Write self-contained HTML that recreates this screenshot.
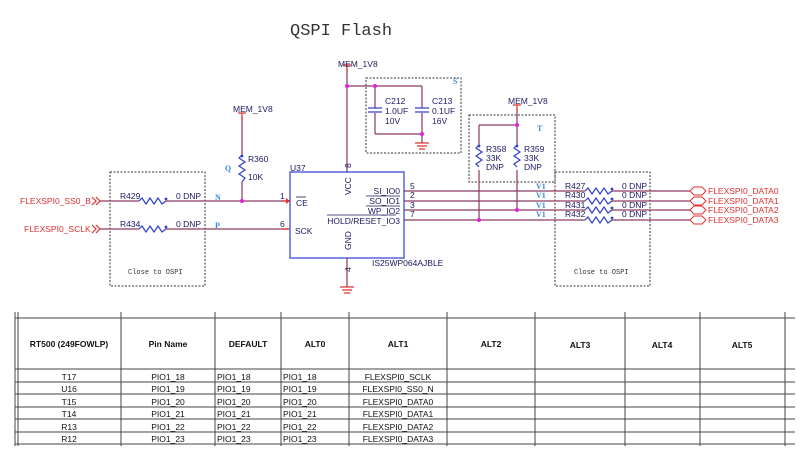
<!DOCTYPE html>
<html><head><meta charset="utf-8"><style>
html,body{margin:0;padding:0;background:#fff;}
svg{display:block;}
.s{font-family:"Liberation Sans",sans-serif;font-size:8.5px;fill:#1a1a60;}
.r{font-family:"Liberation Sans",sans-serif;font-size:8.5px;fill:#e03030;}
.m{font-family:"Liberation Mono",monospace;font-size:7px;fill:#333;}
.b{font-family:"Liberation Serif",serif;font-size:8px;fill:#3a8ae0;font-weight:bold;}
.t{font-family:"Liberation Sans Narrow","Liberation Sans",sans-serif;font-size:8.5px;fill:#111;}
.h{font-family:"Liberation Sans Narrow","Liberation Sans",sans-serif;font-size:8.5px;fill:#111;font-weight:bold;}
</style></head><body>
<svg width="800" height="462" viewBox="0 0 800 462" xmlns="http://www.w3.org/2000/svg">
<text x="290" y="35" font-family="Liberation Mono,monospace" font-size="17" fill="#333">QSPI Flash</text>

<g fill="none" stroke="#333" stroke-dasharray="2,1.5" stroke-width="1">
<rect x="110" y="172" width="95" height="114"/>
<rect x="366" y="78" width="95" height="75"/>
<rect x="469" y="115" width="86" height="67"/>
<rect x="555" y="172" width="95" height="114"/>
</g>
<text class="m" x="128" y="274">Close to OSPI</text>
<text class="m" x="574" y="274">Close to OSPI</text>

<g stroke="#8a3a60" stroke-width="1.2" fill="none">
<path d="M100 201H139M166 201H290"/>
<path d="M100 229H139M166 229H290"/>
<path d="M242 117V155M242 182V201"/>
<path d="M347 68V172M347 86H422M375 86V108M375 113V134M422 86V108M422 113V134M375 134H422M422 134V143"/>
<path d="M347 258V287"/>
<path d="M404 191H585M612 191H690"/>
<path d="M404 201H585M612 201H690"/>
<path d="M404 210H585M612 210H690"/>
<path d="M404 220H585M612 220H690"/>
<path d="M517 108V145M517 170V210M479 125H517M479 125V145M479 170V220"/>
</g>
<g stroke="#e03030" stroke-width="1.2" fill="none">
<path d="M242 113V120M347 65V72M517 105V111M343 65h8M238 113h8M513 105h8"/>
<path d="M282 201h8M282 229h6"/>
<path d="M92 197l4 4-4 4M96 197l4 4-4 4M92 225l4 4-4 4M96 225l4 4-4 4"/>
<path d="M340 287h14M342 290h10M344 293h6M415 143h14M417 146h10M419 149h6"/>
</g>
<path d="M286 198l4 3-4 3z" fill="#e03030"/>
<g stroke="#3040d0" stroke-width="1.2" fill="none">
<path d="M139 201l3-3 4 6 4-6 4 6 4-6 4 6 4-3"/>
<path d="M139 229l3-3 4 6 4-6 4 6 4-6 4 6 4-3"/>
<path d="M242 155l-3 3 6 4-6 4 6 4-6 4 6 4-3 4"/>
<path d="M479 145l-3 3 6 4-6 4 6 4-6 4 3 3"/>
<path d="M517 145l-3 3 6 4-6 4 6 4-6 4 3 3"/>
<path d="M585 191l3-3 4 6 4-6 4 6 4-6 4 6 4-3"/>
<path d="M585 201l3-3 4 6 4-6 4 6 4-6 4 6 4-3"/>
<path d="M585 210l3-3 4 6 4-6 4 6 4-6 4 6 4-3"/>
<path d="M585 220l3-3 4 6 4-6 4 6 4-6 4 6 4-3"/>
<path d="M368 108h14M368 112h14M415 108h14M415 112h14"/>
<rect x="290" y="172" width="114" height="86"/>
</g>
<g fill="#3040d0">
<circle cx="166" cy="199" r="1.4"/><circle cx="166" cy="227" r="1.4"/><circle cx="242" cy="156" r="1.4"/>
<circle cx="479" cy="146" r="1.4"/><circle cx="517" cy="146" r="1.4"/>
<circle cx="612" cy="189" r="1.4"/><circle cx="612" cy="199" r="1.4"/><circle cx="612" cy="208" r="1.4"/><circle cx="612" cy="218" r="1.4"/>
</g>
<g fill="#e020e0">
<circle cx="242" cy="201" r="2"/><circle cx="347" cy="86" r="2"/><circle cx="375" cy="86" r="2"/><circle cx="422" cy="134" r="2"/>
<circle cx="517" cy="125" r="2"/><circle cx="517" cy="210" r="2"/><circle cx="479" cy="220" r="2"/>
</g>
<g stroke="#e03030" fill="none" stroke-width="1">
<path d="M690 191l4-4h8l4 4-4 4h-8z M694 187l-4 4 4 4"/>
<path d="M690 201l4-4h8l4 4-4 4h-8z"/>
<path d="M690 210l4-4h8l4 4-4 4h-8z"/>
<path d="M690 220l4-4h8l4 4-4 4h-8z"/>
</g>
<text class="r" x="708" y="194">FLEXSPI0_DATA0</text>
<text class="r" x="708" y="204">FLEXSPI0_DATA1</text>
<text class="r" x="708" y="213">FLEXSPI0_DATA2</text>
<text class="r" x="708" y="223">FLEXSPI0_DATA3</text>
<text class="r" x="20" y="204">FLEXSPI0_SS0_B</text>
<text class="r" x="24" y="232">FLEXSPI0_SCLK</text>

<text class="s" x="120" y="199">R429</text><text class="s" x="176" y="199">0 DNP</text>
<text class="s" x="120" y="227">R434</text><text class="s" x="176" y="227">0 DNP</text>
<text class="b" x="215" y="200">N</text><text class="b" x="215" y="228">P</text><text class="b" x="225" y="171">Q</text>
<text class="s" x="233" y="112">MEM_1V8</text>
<text class="s" x="248" y="162">R360</text><text class="s" x="248" y="180">10K</text>
<text class="s" x="338" y="67">MEM_1V8</text>
<text class="s" x="508" y="104">MEM_1V8</text>
<text class="s" x="290" y="171">U37</text>
<text class="s" x="280" y="199">1</text><text class="s" x="280" y="227">6</text>
<text class="s" x="296" y="206">CE</text><path d="M296 197h10" stroke="#1a1a60" stroke-width="0.8"/>
<text class="s" x="295" y="234">SCK</text>
<text class="s" x="351" y="168" transform="rotate(-90 351 168)">8</text>
<text class="s" x="351" y="195" transform="rotate(-90 351 195)">VCC</text>
<text class="s" x="351" y="250" transform="rotate(-90 351 250)">GND</text>
<text class="s" x="351" y="272" transform="rotate(-90 351 272)">4</text>
<g class="s" text-anchor="end">
<text x="400" y="194">SI_IO0</text><text x="400" y="204">SO_IO1</text><text x="400" y="214">WP_IO2</text><text x="400" y="224">HOLD/RESET_IO3</text>
</g>
<path d="M366 196h34M366 206h34M327 215h69" stroke="#1a1a60" stroke-width="0.7"/>
<g class="s"><text x="410" y="189">5</text><text x="410" y="198">2</text><text x="410" y="208">3</text><text x="410" y="217">7</text></g>
<text class="s" x="372" y="266">IS25WP064AJBLE</text>
<text class="s" x="385" y="104">C212</text><text class="s" x="385" y="114">1.0UF</text><text class="s" x="385" y="124">10V</text>
<text class="s" x="432" y="104">C213</text><text class="s" x="432" y="114">0.1UF</text><text class="s" x="432" y="124">16V</text>
<text class="b" x="453" y="84">S</text><text class="b" x="537" y="131">T</text>
<text class="s" x="486" y="152">R358</text><text class="s" x="486" y="161">33K</text><text class="s" x="486" y="170">DNP</text>
<text class="s" x="524" y="152">R359</text><text class="s" x="524" y="161">33K</text><text class="s" x="524" y="170">DNP</text>
<g class="b"><text x="536" y="189">V1</text><text x="536" y="198">V1</text><text x="536" y="208">V1</text><text x="536" y="217">V1</text></g>
<g class="s">
<text x="565" y="189">R427</text><text x="622" y="189">0 DNP</text>
<text x="565" y="198">R430</text><text x="622" y="198">0 DNP</text>
<text x="565" y="208">R431</text><text x="622" y="208">0 DNP</text>
<text x="565" y="217">R432</text><text x="622" y="217">0 DNP</text>
</g>

<g stroke="#444" stroke-width="1" fill="none">
<path d="M15 312V446M18 312V446M121 312V446M215 312V446M281 312V446M349 312V446M447 312V446M535 312V446M625 312V446M700 312V446M785 312V446"/>
<path d="M15 318H795M15 369H795M15 382H795M15 394H795M15 407H795M15 419H795M15 432H795M15 444H795"/>
</g>
<g class="h" text-anchor="middle">
<text x="69" y="347">RT500 (249FOWLP)</text><text x="168" y="347">Pin Name</text><text x="248" y="347">DEFAULT</text>
<text x="315" y="347">ALT0</text><text x="398" y="347">ALT1</text><text x="491" y="347">ALT2</text>
<text x="580" y="348">ALT3</text><text x="662" y="348">ALT4</text><text x="742" y="348">ALT5</text>
</g>
<g class="t">
<g text-anchor="middle">
<text x="69" y="380">T17</text><text x="69" y="392">U16</text><text x="69" y="405">T15</text><text x="69" y="417">T14</text><text x="69" y="430">R13</text><text x="69" y="442">R12</text>
<text x="168" y="380">PIO1_18</text><text x="168" y="392">PIO1_19</text><text x="168" y="405">PIO1_20</text><text x="168" y="417">PIO1_21</text><text x="168" y="430">PIO1_22</text><text x="168" y="442">PIO1_23</text>
<text x="398" y="380">FLEXSPI0_SCLK</text><text x="398" y="392">FLEXSPI0_SS0_N</text><text x="398" y="405">FLEXSPI0_DATA0</text><text x="398" y="417">FLEXSPI0_DATA1</text><text x="398" y="430">FLEXSPI0_DATA2</text><text x="398" y="442">FLEXSPI0_DATA3</text>
</g>
<text x="217" y="380">PIO1_18</text><text x="217" y="392">PIO1_19</text><text x="217" y="405">PIO1_20</text><text x="217" y="417">PIO1_21</text><text x="217" y="430">PIO1_22</text><text x="217" y="442">PIO1_23</text>
<text x="283" y="380">PIO1_18</text><text x="283" y="392">PIO1_19</text><text x="283" y="405">PIO1_20</text><text x="283" y="417">PIO1_21</text><text x="283" y="430">PIO1_22</text><text x="283" y="442">PIO1_23</text>
</g>
</svg>
</body></html>
